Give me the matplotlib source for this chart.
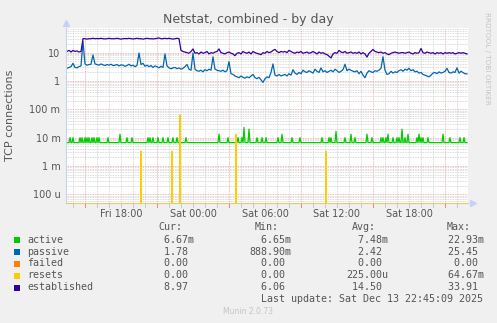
import numpy as np
import matplotlib
matplotlib.use("Agg")
from matplotlib import pyplot as plt
from matplotlib.patches import Rectangle

# hours relative to Sat 00:00, passive / established sampled every 10 min from Fri 13:30
T_START = -10.5
established = [
    11, 12, 10.5, 12, 11, 11.5, 10.5, 11, 31, 31, 30, 31,
    31, 32, 31, 31.5, 31, 32, 31, 30.5, 31, 32, 31, 31,
    31, 32, 31, 30, 31, 31.5, 31, 32, 31, 30.5, 31, 32,
    31, 31, 30, 31, 32, 31, 31, 30.5, 31, 32, 33, 31,
    31, 32, 31, 32, 31, 30, 31, 32, 31, 12, 11, 10.5,
    10, 9.5, 11, 13.5, 9.5, 10, 9, 10.5, 9.5, 10, 11, 9,
    10, 9.5, 10.5, 11, 13.5, 10, 9.5, 9, 10, 10.5, 9.5, 9,
    7.8, 9.5, 10, 9, 11, 10, 9.5, 10.5, 9, 11, 10, 9.5,
    9, 8.5, 10, 9.5, 11, 10, 10.5, 12, 13, 11, 10, 11,
    10.5, 11, 10, 12, 11, 10, 9.5, 10.5, 10, 11, 9.5, 10,
    10.5, 9.5, 10, 11, 10, 9, 10.5, 9.5, 10, 9, 8.5, 7.5,
    6.5, 9, 10, 9.5, 12, 10.5, 10, 11, 9.5, 10, 10.5, 9.5,
    10, 9.5, 10.5, 9, 10, 9, 7, 9.5, 11, 13, 11, 10.5,
    10, 10.5, 9.5, 10, 9, 8.5, 9.5, 10, 10.5, 10, 9.5, 10,
    10, 9.5, 10, 10.5, 9.5, 9, 10, 9.5, 10, 14, 10, 9.5,
    10.5, 10, 9.5, 10, 9, 10, 9.5, 10, 9, 10, 9.5, 10,
    9.5, 10, 9, 9.5, 10, 9.5, 10, 9.5, 8.97]
passive = [
    2.8, 3.0, 3.2, 4.2, 3.0, 2.9, 3.2, 3.4, 25, 4.0, 3.6, 3.8,
    3.9, 8.3, 4.0, 3.8, 3.6, 4.0, 3.7, 3.5, 3.8, 3.6, 3.9, 3.5,
    3.6, 3.8, 3.4, 3.7, 3.6, 3.3, 3.5, 3.9, 3.4, 3.6, 3.2, 3.5,
    9.7, 3.8, 4.2, 3.3, 3.6, 3.2, 3.5, 3.0, 3.4, 3.2, 2.9, 3.3,
    3.0, 9.0, 3.4, 2.9, 2.7, 2.9, 3.0, 2.7, 2.9, 2.6, 2.8, 3.2,
    3.8, 2.6, 2.4, 9.7, 2.6, 2.3, 2.2, 2.4, 2.1, 2.5, 2.3, 2.6,
    2.4, 7.1, 2.6, 2.4, 2.3, 2.2, 2.4, 2.1, 2.3, 4.8, 1.8, 1.7,
    1.5, 1.4, 1.3, 1.5, 1.35, 1.25, 1.4, 1.3, 1.5, 1.7, 1.3, 1.2,
    1.35, 1.1, 0.89, 1.2, 1.4, 1.3, 2.0, 4.0, 1.6, 1.5, 1.7, 1.5,
    1.6, 1.7, 1.5, 1.8, 1.6, 2.5, 1.9, 1.7, 2.0, 1.8, 2.4, 2.1,
    2.0, 2.3, 2.1, 1.9, 2.6, 2.2, 2.0, 2.9, 2.1, 2.3, 2.0, 2.2,
    2.4, 2.1, 2.6, 2.3, 2.0, 2.2, 2.5, 3.9, 2.3, 2.6, 2.4, 2.2,
    2.1, 2.3, 1.8, 2.2, 1.6, 1.3, 1.9, 2.3, 2.1, 2.0, 2.3, 2.2,
    2.4, 2.8, 7.2, 2.4, 1.7, 1.8, 2.2, 1.9, 2.1, 2.0, 2.3, 2.5,
    2.2, 2.6, 2.4, 2.8, 2.3, 2.5, 2.1, 2.2, 1.9, 2.0, 1.7, 1.6,
    1.5, 1.4, 1.6, 1.9, 2.0, 1.8, 2.1, 1.9, 2.0, 2.2, 2.8, 2.0,
    1.9, 2.1, 2.0, 2.9, 1.9, 2.2, 2.0, 1.8, 1.78]

# active sits at 6.67m, with single 5-min bumps
active_base = 6.67e-3
active_bumps = [
    ("Fri 13:45", 10e-3), ("Fri 14:00", 10e-3), ("Fri 14:35", 10e-3), ("Fri 14:45", 10e-3),
    ("Fri 15:00", 10e-3), ("Fri 15:10", 10e-3), ("Fri 15:20", 10e-3), ("Fri 15:35", 10e-3),
    ("Fri 15:45", 10e-3), ("Fri 16:00", 10e-3), ("Fri 16:10", 10e-3), ("Fri 16:55", 10e-3),
    ("Fri 17:55", 13.3e-3), ("Fri 18:30", 10e-3), ("Fri 18:55", 10e-3), ("Fri 20:15", 10e-3),
    ("Fri 20:25", 10e-3), ("Fri 20:40", 10e-3), ("Fri 21:05", 10e-3), ("Fri 21:30", 10e-3),
    ("Fri 21:55", 10e-3), ("Fri 22:20", 10e-3), ("Fri 22:40", 10e-3), ("Fri 23:25", 10e-3),
    ("Sat 02:10", 13.3e-3), ("Sat 02:55", 10e-3), ("Sat 03:45", 10e-3), ("Sat 04:05", 10e-3),
    ("Sat 04:15", 22.93e-3), ("Sat 04:40", 20e-3), ("Sat 05:20", 10e-3), ("Sat 05:45", 10e-3),
    ("Sat 06:05", 10e-3), ("Sat 07:05", 10e-3), ("Sat 07:25", 13.3e-3), ("Sat 08:15", 10e-3),
    ("Sat 08:55", 10e-3), ("Sat 10:45", 10e-3), ("Sat 11:20", 10e-3), ("Sat 11:30", 10e-3),
    ("Sat 11:55", 16.7e-3), ("Sat 12:40", 10e-3), ("Sat 13:10", 13.3e-3), ("Sat 13:30", 10e-3),
    ("Sat 14:30", 13.3e-3), ("Sat 14:55", 10e-3), ("Sat 15:40", 10e-3), ("Sat 15:50", 10e-3),
    ("Sat 16:05", 10e-3), ("Sat 16:15", 13.3e-3), ("Sat 16:40", 10e-3), ("Sat 17:00", 10e-3),
    ("Sat 17:10", 10e-3), ("Sat 17:25", 20e-3), ("Sat 17:40", 10e-3), ("Sat 17:55", 13.3e-3),
    ("Sat 18:40", 10e-3), ("Sat 18:50", 13.3e-3), ("Sat 19:00", 10e-3), ("Sat 19:10", 10e-3),
    ("Sat 19:35", 10e-3), ("Sat 20:50", 13.3e-3), ("Sat 21:25", 10e-3), ("Sat 22:15", 10e-3),
    ("Sat 22:35", 10e-3)]
resets_spikes = [
    ("Fri 19:40", 3.33e-3), ("Fri 22:15", 3.33e-3), ("Fri 22:55", 64.67e-3),
    ("Sat 03:35", 13.33e-3), ("Sat 11:05", 3.33e-3)]

names = ["active", "passive", "failed", "resets", "established"]
colors = ["#00CC00", "#0066B3", "#FF8000", "#FFCC00", "#330099"]
cur = [6.67e-3, 1.78, 0, 0, 8.97]
vmin = [6.65e-3, 888.90e-3, 0, 0, 6.06]
avg = [7.48e-3, 2.42, 0, 225.00e-6, 14.50]
vmax = [22.93e-3, 25.45, 0, 64.67e-3, 33.91]

xtick_hours = [-6, 0, 6, 12, 18]
xtick_labels = ["Fri 18:00", "Sat 00:00", "Sat 06:00", "Sat 12:00", "Sat 18:00"]


def to_hours(s):
    day, hm = s.split()
    h, m = hm.split(":")
    return (-24 if day == "Fri" else 0) + int(h) + int(m) / 60


def si(v):
    if v == 0:
        return "%6.2f " % 0
    for mult, suf in [(1, " "), (1e-3, "m"), (1e-6, "u")]:
        if abs(v) >= mult:
            return "%6.2f%s" % (v / mult, suf)
    return "%6.2f " % v


t10 = T_START + np.arange(len(established)) / 6
t5 = T_START + np.arange(401) / 12
active = np.full(len(t5), active_base)
for s, v in active_bumps:
    active[int(round((to_hours(s) - T_START) * 12))] = v
resets = np.zeros(len(t5))
for s, v in resets_spikes:
    resets[int(round((to_hours(s) - T_START) * 12))] = v
failed = np.zeros(len(t5))

W, H = 497, 323
BG = "#F0F0F0"
TXT = "#555555"
fig = plt.figure(figsize=(W / 100, H / 100), dpi=100, facecolor=BG)
ax = fig.add_axes([66 / W, 1 - 203 / H, (468 - 66) / W, (203 - 28) / H])
ax.set_facecolor("white")
ax.set_yscale("log", nonpositive="clip")
ax.set_xlim(-10.583, 22.917)
ax.set_ylim(4.94e-5, 74)

# grid
for h in np.arange(-10, 23):
    major = (h + 9) % 6 == 0
    ax.axvline(h, color="#F0A0A0" if major else "#CFCFCF", lw=0.6,
               ls=(0, (1, 1)), zorder=0)
for d in range(-5, 2):
    for k in range(1, 10):
        y = k * 10.0 ** d
        ax.axhline(y, color="#F0A0A0" if k == 1 else "#CFCFCF", lw=0.6,
                   ls=(0, (1, 1)), zorder=0)

ax.plot(t5, active, color=colors[0], lw=0.9)
ax.plot(t10, passive, color=colors[1], lw=0.9)
ax.plot(t5, failed, color=colors[2], lw=0.9)
ax.plot(t5, resets, color=colors[3], lw=0.9)
ax.plot(t10, established, color=colors[4], lw=0.9)

ax.set_yticks([1e-4, 1e-3, 1e-2, 1e-1, 1, 10])
ax.set_yticklabels(["100 u", "1 m", "10 m", "100 m", "1", "10"])
ax.yaxis.set_minor_locator(matplotlib.ticker.NullLocator())
ax.set_xticks(xtick_hours)
ax.set_xticklabels(xtick_labels)
ax.tick_params(axis="both", length=0, labelsize=7, labelcolor=TXT, pad=4)
ax.tick_params(axis="x", pad=4.5)

for sp in ["top", "right"]:
    ax.spines[sp].set_visible(False)
ax.spines["left"].set_color("#C8D0F0")
ax.spines["left"].set_linewidth(0.8)
ax.spines["bottom"].set_color("#E0CC70")
ax.spines["bottom"].set_linewidth(0.8)

# small tick marks under the x axis
for h in np.arange(-10, 23):
    major = (h + 9) % 6 == 0
    ax.plot([h, h], [-0.025, 0], transform=ax.get_xaxis_transform(),
            color="#F08080" if major else "#C8C8C8", lw=0.7, clip_on=False)
ax.plot([0], [1.03], marker="^", ms=4, color="#C8D0F8", transform=ax.transAxes,
        clip_on=False)
ax.plot([1.012], [0], marker=">", ms=4, color="#C8D0F8", transform=ax.transAxes,
        clip_on=False)


def px(x, y):
    return x / W, 1 - y / H


fig.text(*px(248, 19), "Netstat, combined - by day", ha="center", va="center",
         fontsize=9, color=TXT)
fig.text(*px(10, 115), "TCP connections", ha="center", va="center",
         rotation=90, fontsize=8, color=TXT)
fig.text(*px(487, 58), "RRDTOOL / TOBI OETIKER", ha="center", va="center",
         rotation=-90, fontsize=5.2, color="#C4C4C4")

mono = dict(family="DejaVu Sans Mono", fontsize=7.2, color=TXT, va="center")
cols = [152, 249, 346, 442]
for x, head in zip([158, 255, 352, 447], ["Cur:", "Min:", "Avg:", "Max:"]):
    fig.text(*px(x, 227.5), head, **mono)
rows_y = [240, 252, 263.5, 275.5, 287.5]
for i, name in enumerate(names):
    y = rows_y[i]
    fig.patches.append(Rectangle(px(14, y + 3), 6 / W, 6 / H, transform=fig.transFigure,
                                 facecolor=colors[i], edgecolor="none"))
    fig.text(*px(27, y), name, **mono)
    for x, vals in zip(cols, [cur, vmin, avg, vmax]):
        fig.text(*px(x, y), si(vals[i]), **mono)
fig.text(*px(483, 299.5), "Last update: Sat Dec 13 22:45:09 2025", ha="right", **mono)
fig.text(*px(248, 312), "Munin 2.0.73", ha="center", va="center", fontsize=5.5,
         color="#C4C4C4")

fig.savefig("out.png", dpi=100, facecolor=BG)
